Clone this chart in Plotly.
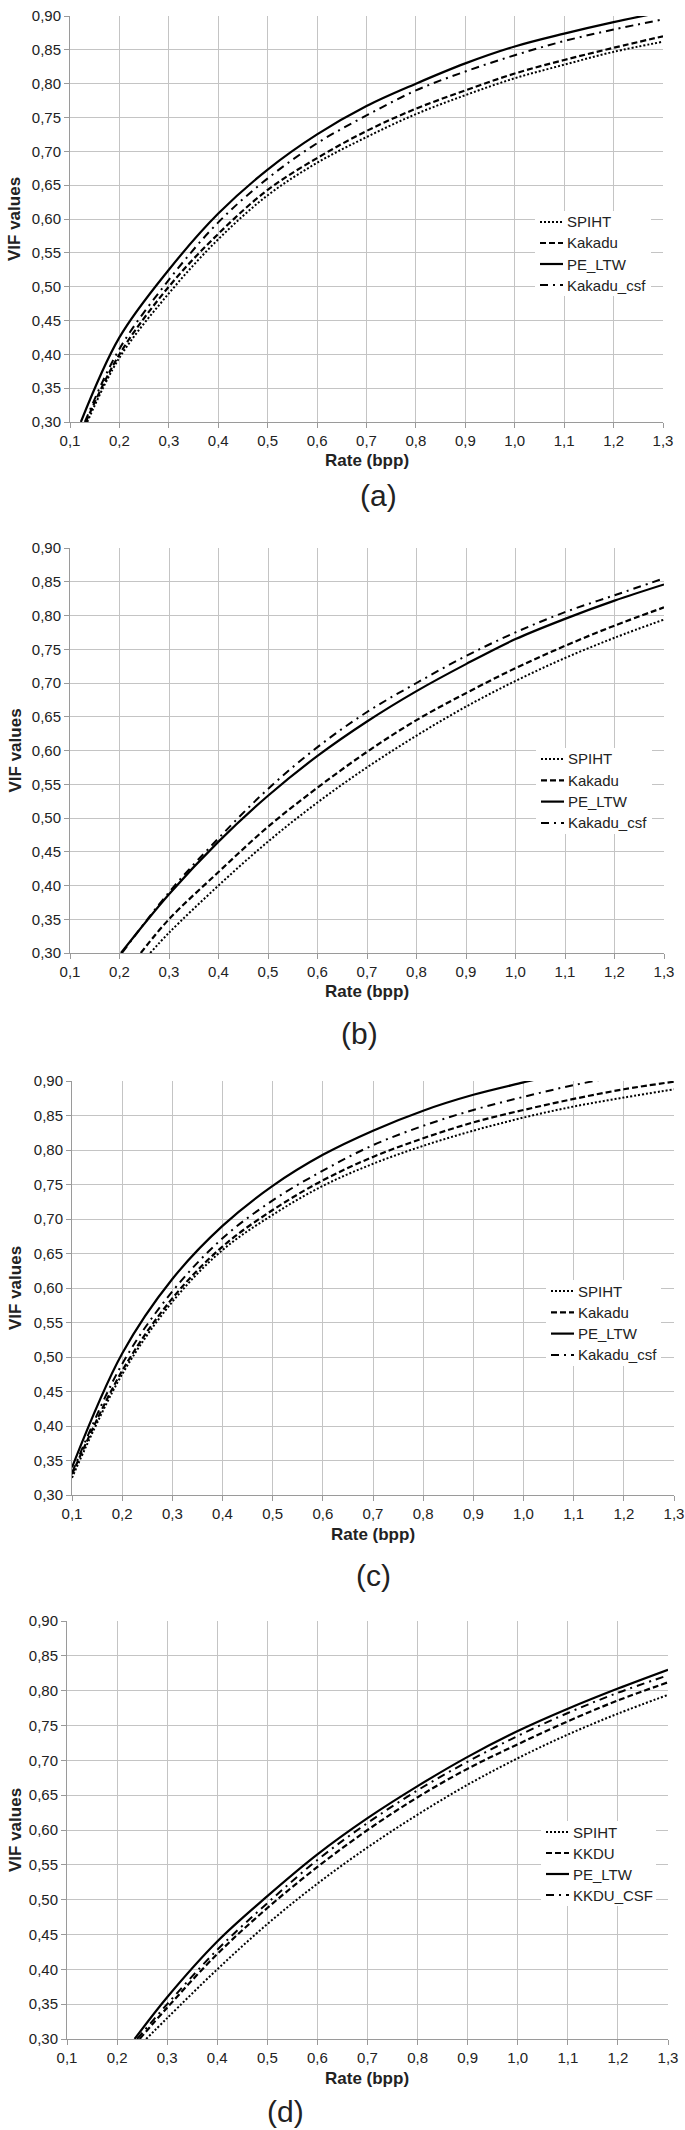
import plotly.graph_objects as go

W, H = 685, 2130

# ---------------- data ----------------
RATE = [0.2, 0.3, 0.4, 0.5, 0.6, 0.7, 0.8, 0.9, 1.0, 1.1, 1.2, 1.3]
RATE_C = [0.1] + RATE

# panel (a)
A_START = {"SPIHT": 0.135, "Kakadu": 0.132, "PE_LTW": 0.122, "Kakadu_csf": 0.13}
A_SPIHT = [0.395, 0.490, 0.570, 0.635, 0.683, 0.721, 0.755, 0.783, 0.808, 0.828, 0.847, 0.862]
A_KAKADU = [0.400, 0.500, 0.578, 0.643, 0.690, 0.730, 0.763, 0.790, 0.815, 0.835, 0.853, 0.870]
A_PELTW = [0.425, 0.525, 0.608, 0.673, 0.725, 0.767, 0.800, 0.830, 0.855, 0.874, 0.891, 0.906]
A_KAKADU_CSF = [0.408, 0.510, 0.595, 0.660, 0.712, 0.753, 0.790, 0.818, 0.842, 0.863, 0.880, 0.895]

# panel (b)
B_START = {"SPIHT": 0.262, "Kakadu": 0.243, "PE_LTW": 0.203, "Kakadu_csf": 0.205}
B_SPIHT = [None, 0.330, 0.400, 0.465, 0.523, 0.575, 0.622, 0.665, 0.703, 0.737, 0.767, 0.794]
B_KAKADU = [None, 0.350, 0.420, 0.487, 0.545, 0.598, 0.645, 0.685, 0.722, 0.755, 0.785, 0.812]
B_PELTW = [None, 0.387, 0.465, 0.533, 0.592, 0.643, 0.688, 0.728, 0.765, 0.795, 0.822, 0.846]
B_KAKADU_CSF = [None, 0.390, 0.470, 0.543, 0.605, 0.657, 0.700, 0.740, 0.775, 0.805, 0.830, 0.855]

# panel (c)
C_SPIHT = [0.325, 0.475, 0.580, 0.655, 0.706, 0.748, 0.780, 0.806, 0.828, 0.847, 0.863, 0.876, 0.888]
C_KAKADU = [0.330, 0.480, 0.585, 0.660, 0.713, 0.756, 0.790, 0.817, 0.840, 0.858, 0.874, 0.888, 0.899]
C_PELTW = [0.340, 0.505, 0.613, 0.690, 0.748, 0.793, 0.828, 0.857, 0.880, 0.898, 0.915, 0.930, 0.942]
C_KAKADU_CSF = [0.332, 0.490, 0.595, 0.672, 0.727, 0.770, 0.807, 0.835, 0.858, 0.877, 0.894, 0.908, 0.921]

# panel (d)
D_START = {"SPIHT": 0.258, "KKDU": 0.245, "PE_LTW": 0.235, "KKDU_CSF": 0.24}
D_SPIHT = [None, 0.330, 0.400, 0.465, 0.523, 0.575, 0.622, 0.665, 0.703, 0.737, 0.767, 0.794]
D_KKDU = [None, 0.345, 0.422, 0.488, 0.547, 0.600, 0.647, 0.688, 0.723, 0.756, 0.786, 0.812]
D_PELTW = [None, 0.360, 0.440, 0.505, 0.565, 0.617, 0.663, 0.705, 0.742, 0.774, 0.803, 0.830]
D_KKDU_CSF = [None, 0.350, 0.428, 0.495, 0.557, 0.610, 0.657, 0.698, 0.735, 0.768, 0.797, 0.822]

Y_MIN, Y_MAX = 0.30, 0.90
X_MIN, X_MAX = 0.1, 1.3
PANEL_LABELS = ["(a)", "(b)", "(c)", "(d)"]
X_TITLE = "Rate (bpp)"
Y_TITLE = "VIF values"

# ---------------- styles ----------------
STYLE = {
    "SPIHT": dict(dash="2px,2px", width=2),
    "Kakadu": dict(dash="6px,3px", width=2.2),
    "KKDU": dict(dash="6px,3px", width=2.2),
    "PE_LTW": dict(dash="solid", width=2.2),
    "Kakadu_csf": dict(dash="8px,5px,2px,5px", width=2),
    "KKDU_CSF": dict(dash="8px,5px,2px,5px", width=2),
}


def build_series(start, rate, vals):
    xs, ys = [], []
    if start is not None:
        xs.append(start)
        ys.append(Y_MIN)
    for r, v in zip(rate, vals):
        if v is not None:
            xs.append(r)
            ys.append(v)
    return xs, ys


panels = [
    dict(series=[("SPIHT", A_START["SPIHT"], RATE, A_SPIHT),
                 ("Kakadu", A_START["Kakadu"], RATE, A_KAKADU),
                 ("PE_LTW", A_START["PE_LTW"], RATE, A_PELTW),
                 ("Kakadu_csf", A_START["Kakadu_csf"], RATE, A_KAKADU_CSF)],
         box=(70, 663, 16, 422), leg=(540, 222, 21, 651), lab=(378, 495)),
    dict(series=[("SPIHT", B_START["SPIHT"], RATE, B_SPIHT),
                 ("Kakadu", B_START["Kakadu"], RATE, B_KAKADU),
                 ("PE_LTW", B_START["PE_LTW"], RATE, B_PELTW),
                 ("Kakadu_csf", B_START["Kakadu_csf"], RATE, B_KAKADU_CSF)],
         box=(70, 664, 548, 953), leg=(541, 759, 21.3, 652), lab=(359, 1033)),
    dict(series=[("SPIHT", None, RATE_C, C_SPIHT),
                 ("Kakadu", None, RATE_C, C_KAKADU),
                 ("PE_LTW", None, RATE_C, C_PELTW),
                 ("Kakadu_csf", None, RATE_C, C_KAKADU_CSF)],
         box=(72, 674, 1081, 1495), leg=(551, 1291, 21.3, 661), lab=(373, 1575)),
    dict(series=[("SPIHT", D_START["SPIHT"], RATE, D_SPIHT),
                 ("KKDU", D_START["KKDU"], RATE, D_KKDU),
                 ("PE_LTW", D_START["PE_LTW"], RATE, D_PELTW),
                 ("KKDU_CSF", D_START["KKDU_CSF"], RATE, D_KKDU_CSF)],
         box=(67, 668, 1621, 2039), leg=(546, 1832, 21, 656), lab=(285, 2111)),
]

FONT = "Liberation Sans, Arial, sans-serif"
GRID = "#c4c4c4"
AXLINE = "#9a9a9a"
TXT = "#222"

fig = go.Figure()
annotations = []
shapes = []
layout = dict(
    template="none",
    width=W, height=H, margin=dict(l=0, r=0, t=0, b=0, pad=0, autoexpand=False),
    paper_bgcolor="white", plot_bgcolor="white",
    separators=",.",
    font=dict(family=FONT, size=15, color=TXT),
    showlegend=False,
)

xtickvals = [round(0.1 * i, 1) for i in range(1, 14)]
ytickvals = [round(0.30 + 0.05 * i, 2) for i in range(13)]


def px_x(v):
    return v / W


def px_y(v):
    return 1 - v / H


for i, p in enumerate(panels):
    k = "" if i == 0 else str(i + 1)
    x0, x1, y0, y1 = p["box"]
    for name, start, rate, vals in p["series"]:
        xs, ys = build_series(start, rate, vals)
        st = STYLE[name]
        fig.add_trace(go.Scatter(
            x=xs, y=ys, name=name, mode="lines",
            line=dict(color="black", width=st["width"], dash=st["dash"],
                      shape="spline", smoothing=1.0),
            xaxis="x" + k, yaxis="y" + k, hoverinfo="skip",
        ))
    axis_common = dict(
        showgrid=True, gridcolor=GRID, gridwidth=1,
        showline=True, linecolor=AXLINE, linewidth=1,
        ticks="outside", ticklen=5, tickcolor=AXLINE, tickwidth=1,
        tickfont=dict(size=15, color=TXT, family=FONT),
        zeroline=False, fixedrange=True, automargin=False,
    )
    layout["xaxis" + k] = dict(
        domain=[px_x(x0), px_x(x1)], anchor="y" + k, range=[X_MIN, X_MAX],
        tickvals=xtickvals, tickformat=".1f", **axis_common)
    layout["yaxis" + k] = dict(
        domain=[px_y(y1), px_y(y0)], anchor="x" + k, range=[Y_MIN, Y_MAX],
        tickvals=ytickvals, tickformat=".2f", **axis_common)

    # legend (drawn by hand to match the compact original layout)
    lx, ly, lstep, lright = p["leg"]
    n = len(p["series"])
    shapes.append(dict(
        type="rect", xref="paper", yref="paper", layer="above",
        x0=px_x(lx - 5), x1=px_x(lright), y0=px_y(ly - 11),
        y1=px_y(ly + (n - 1) * lstep + 11),
        fillcolor="white", line=dict(width=0),
    ))
    for j, (name, _, _, _) in enumerate(p["series"]):
        yy = ly + j * lstep
        st = STYLE[name]
        shapes.append(dict(
            type="line", xref="paper", yref="paper", layer="above",
            x0=px_x(lx), x1=px_x(lx + 23), y0=px_y(yy), y1=px_y(yy),
            line=dict(color="black", width=st["width"], dash=st["dash"]),
        ))
        annotations.append(dict(
            text=name, xref="paper", yref="paper",
            x=px_x(lx + 25), y=px_y(yy), xanchor="left", yanchor="middle",
            showarrow=False, font=dict(size=15, family=FONT, color=TXT),
        ))

    # axis titles and panel label
    annotations.append(dict(
        text="<b>" + X_TITLE + "</b>", xref="paper", yref="paper",
        x=px_x((x0 + x1) / 2), y=px_y(y1 + 39),
        showarrow=False, font=dict(size=17, family=FONT, color=TXT),
        xanchor="center", yanchor="middle",
    ))
    annotations.append(dict(
        text="<b>" + Y_TITLE + "</b>", xref="paper", yref="paper",
        x=px_x(15), y=px_y((y0 + y1) / 2), textangle=-90,
        showarrow=False, font=dict(size=17, family=FONT, color=TXT),
        xanchor="center", yanchor="middle",
    ))
    lbx, lby = p["lab"]
    annotations.append(dict(
        text=PANEL_LABELS[i], xref="paper", yref="paper",
        x=px_x(lbx), y=px_y(lby),
        showarrow=False, font=dict(size=30, family=FONT, color=TXT),
        xanchor="center", yanchor="middle",
    ))

layout["annotations"] = annotations
layout["shapes"] = shapes
fig.update_layout(**layout)
fig.write_html(
    "out.html",
    config={"displayModeBar": False, "staticPlot": True},
    post_script="document.body.style.margin='0';document.body.style.padding='0';"
                "document.body.style.overflow='hidden';",
)
